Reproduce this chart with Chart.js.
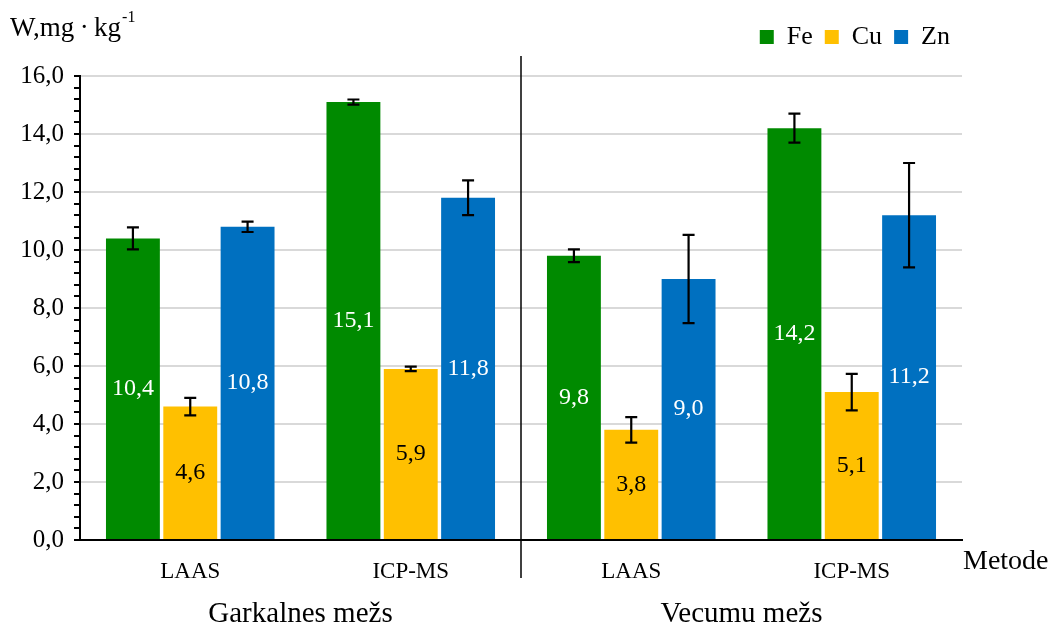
<!doctype html>
<html lang="lv">
  <head>
    <meta charset="UTF-8" />
    <title>Fe, Cu, Zn</title>
    <script src="https://cdn.jsdelivr.net/npm/chart.js"></script>
    <style>
      html, body { margin: 0; padding: 0; background: #fff; }
      #wrap { width: 1054px; height: 628px; position: relative; }
    </style>
  </head>
  <body>
    <div id="wrap"><canvas id="chart"></canvas></div>
    <script>
      // values
      const categories = ['LAAS', 'ICP-MS', 'LAAS', 'ICP-MS']
      const groups = ['Garkalnes mežs', 'Vecumu mežs']
      const fe = [10.4, 15.1, 9.8, 14.2]
      const feErr = [0.38, 0.09, 0.22, 0.5]
      const cu = [4.6, 5.9, 3.8, 5.1]
      const cuErr = [0.3, 0.08, 0.44, 0.63]
      const zn = [10.8, 11.8, 9.0, 11.2]
      const znErr = [0.18, 0.6, 1.52, 1.8]
      const yTicks = [0, 2, 4, 6, 8, 10, 12, 14, 16]

      const serif = '"Liberation Serif", "Times New Roman", serif'
      const fmt = (v) => v.toFixed(1).replace('.', ',')
      const isMajor = (v) => Math.abs(v / 2 - Math.round(v / 2)) < 1e-6

      const errors = [feErr, cuErr, znErr]
      const labelColors = ['#ffffff', '#000000', '#ffffff']

      const extras = {
        id: 'extras',
        beforeLayout(chart) {
          // leave some room under the legend, like the original
          const lg = chart.legend
          if (lg && !lg._roomy) {
            const fit = lg.fit
            lg.fit = function () {
              fit.call(this)
              this.height += 16
            }
            lg._roomy = true
          }
        },
        afterDatasetsDraw(chart) {
          const ctx = chart.ctx
          const y = chart.scales.y
          const x = chart.scales.x
          const area = chart.chartArea
          ctx.save()
          // value labels
          ctx.font = '24px ' + serif
          ctx.textAlign = 'center'
          ctx.textBaseline = 'middle'
          chart.data.datasets.forEach((ds, di) => {
            chart.getDatasetMeta(di).data.forEach((bar, i) => {
              ctx.fillStyle = labelColors[di]
              ctx.fillText(fmt(ds.data[i]), bar.x, (bar.y + bar.base) / 2)
            })
          })
          // error bars
          ctx.strokeStyle = '#000'
          ctx.lineWidth = 2.2
          chart.data.datasets.forEach((ds, di) => {
            chart.getDatasetMeta(di).data.forEach((bar, i) => {
              const v = ds.data[i]
              const e = errors[di][i]
              const top = y.getPixelForValue(v + e)
              const bot = y.getPixelForValue(v - e)
              ctx.beginPath()
              ctx.moveTo(bar.x, top)
              ctx.lineTo(bar.x, bot)
              ctx.moveTo(bar.x - 6, top)
              ctx.lineTo(bar.x + 6, top)
              ctx.moveTo(bar.x - 6, bot)
              ctx.lineTo(bar.x + 6, bot)
              ctx.stroke()
            })
          })
          // divider between the two forests
          const mid = (x.getPixelForValue(1) + x.getPixelForValue(2)) / 2
          ctx.lineWidth = 1.5
          ctx.beginPath()
          ctx.moveTo(mid, area.top - 20)
          ctx.lineTo(mid, area.bottom + 38)
          ctx.stroke()
          // group labels
          ctx.fillStyle = '#000'
          ctx.font = '29px ' + serif
          ctx.textBaseline = 'middle'
          groups.forEach((g, gi) => {
            const cx = (x.getPixelForValue(gi * 2) + x.getPixelForValue(gi * 2 + 1)) / 2
            ctx.fillText(g, cx, area.bottom + 74)
          })
          // x axis name
          ctx.textAlign = 'left'
          ctx.font = '28px ' + serif
          ctx.fillText('Metode', area.right + 1, area.bottom + 22)
          // y axis name with superscript
          ctx.font = '27px ' + serif
          ctx.fillText('W,mg\u2009·\u2009kg', 10, 29)
          const w = ctx.measureText('W,mg\u2009·\u2009kg').width
          ctx.font = '16px ' + serif
          ctx.fillText('-1', 10 + w + 1, 18)
          ctx.restore()
        },
      }

      new Chart(document.getElementById('chart'), {
        type: 'bar',
        data: {
          labels: categories,
          datasets: [
            { label: 'Fe', data: fe, backgroundColor: '#008A00' },
            { label: 'Cu', data: cu, backgroundColor: '#FFC000' },
            { label: 'Zn', data: zn, backgroundColor: '#0070C0' },
          ],
        },
        options: {
          responsive: true,
          maintainAspectRatio: false,
          animation: false,
          categoryPercentage: 0.78,
          barPercentage: 0.94,
          layout: { padding: { top: 12, right: 92, left: 0, bottom: 0 } },
          scales: {
            x: {
              grid: { display: false },
              border: { color: '#000', width: 2 },
              ticks: {
                color: '#000',
                padding: 10,
                font: { family: serif, size: 23 },
              },
              afterFit(scale) {
                scale.height = 88
              },
            },
            y: {
              min: 0,
              max: 16,
              border: { color: '#000', width: 2 },
              grid: {
                color: (c) => (isMajor(c.tick.value) ? '#D9D9D9' : 'rgba(0,0,0,0)'),
                lineWidth: 2,
                tickColor: '#000',
                tickLength: 6,
                drawTicks: true,
              },
              ticks: {
                stepSize: 0.4,
                autoSkip: false,
                color: '#000',
                padding: 10,
                font: { family: serif, size: 25 },
                callback: (v) => (yTicks.some((t) => Math.abs(t - v) < 1e-6) ? fmt(v) : ''),
              },
              afterFit(scale) {
                scale.width = 80
              },
            },
          },
          plugins: {
            legend: {
              position: 'top',
              align: 'end',
              labels: {
                color: '#000',
                boxWidth: 14,
                boxHeight: 14,
                padding: 12,
                font: { family: serif, size: 26 },
              },
            },
            tooltip: { enabled: false },
          },
        },
        plugins: [extras],
      })
    </script>
  </body>
</html>
